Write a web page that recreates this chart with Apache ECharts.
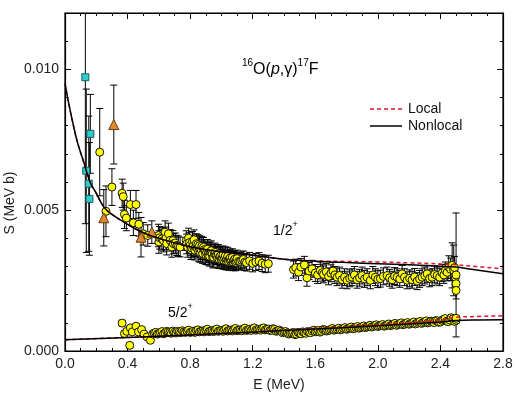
<!DOCTYPE html>
<html>
<head>
<meta charset="utf-8">
<script src="https://cdn.jsdelivr.net/npm/echarts@6/dist/echarts.min.js"></script>
<style>
  html, body { margin: 0; padding: 0; background: #fff; }
  #chart { width: 519px; height: 398px; }
</style>
</head>
<body>
<div id="chart"></div>
<script>
// model curves
const curveE12 = [0, 0.02, 0.05, 0.08, 0.12, 0.16, 0.2, 0.25, 0.3, 0.4, 0.5, 0.6, 0.8, 1.0, 1.2, 1.4, 1.6, 1.8, 2.0, 2.2, 2.4, 2.5, 2.6, 2.8];
const nonlocal12 = [0.0095, 0.0089, 0.0081, 0.0074, 0.0067, 0.0060, 0.0056, 0.0051, 0.00485, 0.0045, 0.0042, 0.0040, 0.0037, 0.00352, 0.0034, 0.00326, 0.00319, 0.00314, 0.00310, 0.00306, 0.00301, 0.00298, 0.00290, 0.00274];
const local12 = [0.0095, 0.0089, 0.0081, 0.0074, 0.0067, 0.0060, 0.0056, 0.0051, 0.00485, 0.0045, 0.0042, 0.0040, 0.0037, 0.00352, 0.0034, 0.00326, 0.00320, 0.00318, 0.00316, 0.00313, 0.00309, 0.00306, 0.00301, 0.00292];

const curveE52 = [0, 0.4, 0.8, 1.2, 1.6, 2.0, 2.4, 2.5, 2.6, 2.8];
const nonlocal52 = [0.00040, 0.00048, 0.00057, 0.00067, 0.00078, 0.00090, 0.00103, 0.00108, 0.00110, 0.00111];
const local52 = [0.00040, 0.00048, 0.00057, 0.00068, 0.00080, 0.00093, 0.00110, 0.00120, 0.00122, 0.00125];

// measured points: [E, S, error]
const squares = [[0.130, 0.00972, 0.0052], [0.136, 0.00640, 0.0029], [0.152, 0.00594, 0.0024], [0.156, 0.00540, 0.0020], [0.162, 0.00771, 0.0014]];
const triangles = [[0.248, 0.00473, 0.0010], [0.312, 0.00804, 0.0014], [0.486, 0.00404, 0.0007], [0.555, 0.00422, 0.0004]];

const half = [
  [0.222, 0.00706, 0.00155], [0.262, 0.00496, 0.0009], [0.300, 0.00582, 0.00065], [0.365, 0.00560, 0.0005],
  [0.372, 0.00548, 0.00048], [0.380, 0.00485, 0.0005], [0.392, 0.00472, 0.00045], [0.418, 0.00520, 0.0005],
  [0.437, 0.00455, 0.00045], [0.454, 0.00520, 0.0005], [0.472, 0.00450, 0.00042], [0.500, 0.00416, 0.0004],
  [0.529, 0.00410, 0.00038], [0.597, 0.00410, 0.0004], [0.600, 0.00387, 0.0004], [0.605, 0.00402, 0.0004],
  [0.620, 0.00398, 0.0004], [0.630, 0.00392, 0.0004], [0.640, 0.00422, 0.0004], [0.645, 0.00400, 0.0004],
  [0.650, 0.00381, 0.0004], [0.661, 0.00416, 0.00038], [0.672, 0.00393, 0.00038], [0.683, 0.00369, 0.00036],
  [0.690, 0.00392, 0.00036], [0.693, 0.00381, 0.00036], [0.705, 0.00383, 0.00036], [0.715, 0.00375, 0.00036],
  [0.725, 0.00372, 0.00036], [0.736, 0.00369, 0.00035],
  [0.775, 0.00392, 0.00035], [0.778, 0.00380, 0.00035], [0.785, 0.00368, 0.00035], [0.790, 0.00401, 0.00035],
  [0.795, 0.00385, 0.00035], [0.800, 0.00375, 0.00035], [0.805, 0.00360, 0.00035], [0.810, 0.00366, 0.00035],
  [0.815, 0.00389, 0.00035], [0.820, 0.00372, 0.00035], [0.825, 0.00395, 0.00035], [0.830, 0.00358, 0.00035],
  [0.835, 0.00370, 0.00035], [0.840, 0.00381, 0.00035], [0.845, 0.00365, 0.00035], [0.850, 0.00378, 0.00035],
  [0.855, 0.00352, 0.00035], [0.860, 0.00374, 0.00035], [0.865, 0.00350, 0.00035], [0.870, 0.00360, 0.00035],
  [0.875, 0.00372, 0.00035], [0.880, 0.00346, 0.00035], [0.885, 0.00368, 0.00035], [0.890, 0.00360, 0.00035],
  [0.895, 0.00355, 0.00035], [0.900, 0.00342, 0.00035], [0.905, 0.00350, 0.00035], [0.910, 0.00361, 0.00035],
  [0.915, 0.00340, 0.00035], [0.920, 0.00349, 0.00035], [0.925, 0.00336, 0.00035], [0.930, 0.00352, 0.00035],
  [0.935, 0.00356, 0.00035], [0.940, 0.00344, 0.00035], [0.945, 0.00330, 0.00035], [0.950, 0.00333, 0.00035],
  [0.955, 0.00345, 0.00033], [0.960, 0.00350, 0.00033], [0.965, 0.00339, 0.00033], [0.970, 0.00340, 0.00033],
  [0.975, 0.00328, 0.00033], [0.980, 0.00345, 0.00033], [0.985, 0.00326, 0.00033], [0.990, 0.00335, 0.00033],
  [0.995, 0.00338, 0.00033], [1.000, 0.00324, 0.00032], [1.005, 0.00330, 0.00032], [1.010, 0.00341, 0.00032],
  [1.015, 0.00322, 0.00032], [1.020, 0.00330, 0.00032], [1.025, 0.00338, 0.00032], [1.030, 0.00320, 0.00032],
  [1.035, 0.00326, 0.00032], [1.040, 0.00336, 0.00032], [1.045, 0.00318, 0.00031], [1.050, 0.00326, 0.00031],
  [1.055, 0.00330, 0.00031], [1.060, 0.00318, 0.00031], [1.065, 0.00322, 0.00031], [1.070, 0.00332, 0.00031],
  [1.075, 0.00316, 0.00031], [1.080, 0.00322, 0.00031], [1.085, 0.00326, 0.00031], [1.090, 0.00315, 0.0003],
  [1.095, 0.00320, 0.0003], [1.100, 0.00328, 0.0003], [1.110, 0.00318, 0.0003], [1.120, 0.00318, 0.0003],
  [1.130, 0.00322, 0.0003], [1.140, 0.00325, 0.0003], [1.150, 0.00316, 0.0003], [1.160, 0.00314, 0.0003],
  [1.180, 0.00320, 0.0003], [1.200, 0.00311, 0.0003], [1.220, 0.00316, 0.0003], [1.240, 0.00319, 0.0003],
  [1.260, 0.00312, 0.0003], [1.280, 0.00308, 0.0003], [1.300, 0.00310, 0.0003],
  [1.461, 0.00289, 0.0003], [1.475, 0.00296, 0.0003], [1.493, 0.00280, 0.0003], [1.508, 0.00298, 0.0003],
  [1.530, 0.00306, 0.0003], [1.547, 0.00260, 0.0003], [1.560, 0.00284, 0.0003], [1.579, 0.00292, 0.0003],
  [1.600, 0.00277, 0.0003], [1.615, 0.00270, 0.0003], [1.632, 0.00286, 0.0003], [1.645, 0.00278, 0.0003],
  [1.653, 0.00272, 0.0003], [1.670, 0.00281, 0.0003], [1.685, 0.00265, 0.0003], [1.700, 0.00276, 0.0003],
  [1.713, 0.00284, 0.0003], [1.725, 0.00270, 0.0003], [1.739, 0.00262, 0.0003], [1.755, 0.00268, 0.0003],
  [1.771, 0.00253, 0.0003], [1.787, 0.00262, 0.0003], [1.803, 0.00251, 0.0003], [1.820, 0.00258, 0.0003],
  [1.835, 0.00262, 0.0003], [1.850, 0.00270, 0.0003], [1.867, 0.00253, 0.0003], [1.883, 0.00260, 0.0003],
  [1.899, 0.00268, 0.0003], [1.915, 0.00256, 0.0003], [1.931, 0.00262, 0.0003], [1.952, 0.00251, 0.0003],
  [1.968, 0.00270, 0.0003], [1.984, 0.00262, 0.0003], [2.000, 0.00255, 0.0003], [2.016, 0.00257, 0.0003],
  [2.035, 0.00265, 0.0003], [2.059, 0.00268, 0.0003], [2.075, 0.00260, 0.0003], [2.091, 0.00253, 0.0003],
  [2.107, 0.00266, 0.0003], [2.123, 0.00262, 0.0003], [2.140, 0.00256, 0.0003], [2.155, 0.00274, 0.0003],
  [2.170, 0.00262, 0.0003], [2.187, 0.00251, 0.0003], [2.203, 0.00258, 0.0003], [2.219, 0.00253, 0.0003],
  [2.235, 0.00263, 0.0003], [2.251, 0.00248, 0.0003], [2.267, 0.00256, 0.0003], [2.283, 0.00262, 0.0003],
  [2.300, 0.00268, 0.0003], [2.315, 0.00274, 0.0003], [2.331, 0.00258, 0.0003], [2.347, 0.00262, 0.0003],
  [2.363, 0.00272, 0.0003], [2.379, 0.00268, 0.0003], [2.395, 0.00262, 0.0003], [2.411, 0.00277, 0.0003],
  [2.422, 0.00270, 0.0003], [2.432, 0.00286, 0.0003], [2.443, 0.00279, 0.0003], [2.453, 0.00298, 0.0004],
  [2.465, 0.00290, 0.0004], [2.475, 0.00304, 0.0008], [2.485, 0.00286, 0.0009], [2.490, 0.00296, 0.0004],
  [2.496, 0.00262, 0.0003], [2.500, 0.00239, 0.0003], [2.500, 0.00215, 0.0003], [2.500, 0.00270, 0.0022]
];

const fiveHalf = [
  [0.365, 0.00099, 0.0001], [0.380, 0.00062, 0.00008], [0.395, 0.00070, 0.00008], [0.414, 0.00020, 0.00008],
  [0.418, 0.00082, 0.00008], [0.430, 0.00068, 0.00008], [0.454, 0.00088, 0.00008], [0.470, 0.00068, 0.00008],
  [0.490, 0.00076, 0.00008], [0.505, 0.00060, 0.00008], [0.525, 0.00050, 0.00008], [0.546, 0.00038, 0.00008],
  [0.56, 0.00060, 0.00006], [0.57, 0.00064, 0.00006], [0.58, 0.00066, 0.00006], [0.59, 0.00060, 0.00006],
  [0.60, 0.00062, 0.00006], [0.61, 0.00066, 0.00006], [0.62, 0.00069, 0.00006], [0.63, 0.00061, 0.00006],
  [0.64, 0.00064, 0.00006], [0.65, 0.00070, 0.00006], [0.66, 0.00068, 0.00006], [0.67, 0.00066, 0.00006],
  [0.68, 0.00063, 0.00006], [0.69, 0.00071, 0.00006], [0.70, 0.00067, 0.00006], [0.71, 0.00064, 0.00006],
  [0.72, 0.00070, 0.00006], [0.73, 0.00068, 0.00006], [0.74, 0.00065, 0.00006], [0.75, 0.00072, 0.00006],
  [0.76, 0.00068, 0.00006], [0.77, 0.00066, 0.00006], [0.78, 0.00071, 0.00006], [0.79, 0.00074, 0.00006],
  [0.80, 0.00066, 0.00006], [0.81, 0.00068, 0.00006], [0.82, 0.00070, 0.00006], [0.83, 0.00066, 0.00006],
  [0.84, 0.00073, 0.00006], [0.85, 0.00075, 0.00006], [0.86, 0.00068, 0.00006], [0.87, 0.00070, 0.00006],
  [0.88, 0.00071, 0.00006], [0.89, 0.00068, 0.00006], [0.90, 0.00074, 0.00006], [0.91, 0.00077, 0.00006],
  [0.92, 0.00069, 0.00006], [0.93, 0.00071, 0.00006], [0.94, 0.00072, 0.00006], [0.95, 0.00069, 0.00006],
  [0.96, 0.00075, 0.00006], [0.97, 0.00078, 0.00006], [0.98, 0.00070, 0.00006], [0.99, 0.00072, 0.00006],
  [1.00, 0.00073, 0.00006], [1.01, 0.00070, 0.00006], [1.02, 0.00076, 0.00006], [1.03, 0.00079, 0.00006],
  [1.04, 0.00071, 0.00006], [1.05, 0.00073, 0.00006], [1.06, 0.00074, 0.00006], [1.07, 0.00071, 0.00006],
  [1.08, 0.00077, 0.00006], [1.09, 0.00080, 0.00006], [1.10, 0.00072, 0.00006], [1.11, 0.00074, 0.00006],
  [1.12, 0.00075, 0.00006], [1.13, 0.00072, 0.00006], [1.14, 0.00078, 0.00006], [1.15, 0.00081, 0.00006],
  [1.16, 0.00073, 0.00006], [1.17, 0.00075, 0.00006], [1.18, 0.00077, 0.00006], [1.19, 0.00073, 0.00006],
  [1.20, 0.00079, 0.00006], [1.21, 0.00082, 0.00006], [1.22, 0.00074, 0.00006], [1.23, 0.00076, 0.00006],
  [1.24, 0.00077, 0.00006], [1.25, 0.00074, 0.00006], [1.26, 0.00080, 0.00006], [1.27, 0.00082, 0.00006],
  [1.28, 0.00075, 0.00006], [1.29, 0.00077, 0.00006], [1.30, 0.00078, 0.00006], [1.31, 0.00073, 0.00006],
  [1.32, 0.00074, 0.00006], [1.33, 0.00079, 0.00006], [1.34, 0.00077, 0.00006], [1.35, 0.00070, 0.00006],
  [1.36, 0.00072, 0.00006], [1.37, 0.00074, 0.00006], [1.38, 0.00070, 0.00006], [1.39, 0.00065, 0.00006],
  [1.40, 0.00067, 0.00006], [1.41, 0.00069, 0.00006], [1.42, 0.00064, 0.00006], [1.43, 0.00060, 0.00006],
  [1.44, 0.00062, 0.00006], [1.45, 0.00064, 0.00006], [1.46, 0.00066, 0.00006], [1.47, 0.00058, 0.00006],
  [1.48, 0.00060, 0.00006], [1.49, 0.00066, 0.00006], [1.50, 0.00064, 0.00006], [1.51, 0.00061, 0.00006],
  [1.52, 0.00068, 0.00006], [1.53, 0.00065, 0.00006], [1.54, 0.00063, 0.00006], [1.55, 0.00069, 0.00006],
  [1.56, 0.00067, 0.00006], [1.57, 0.00065, 0.00006], [1.58, 0.00071, 0.00006], [1.59, 0.00074, 0.00006],
  [1.60, 0.00068, 0.00006], [1.61, 0.00070, 0.00006], [1.62, 0.00073, 0.00006], [1.63, 0.00067, 0.00006],
  [1.64, 0.00070, 0.00006], [1.65, 0.00076, 0.00006], [1.66, 0.00075, 0.00006], [1.67, 0.00071, 0.00006],
  [1.68, 0.00072, 0.00006], [1.69, 0.00074, 0.00006], [1.70, 0.00077, 0.00006], [1.71, 0.00080, 0.00006],
  [1.72, 0.00074, 0.00006], [1.73, 0.00076, 0.00006], [1.74, 0.00078, 0.00006], [1.75, 0.00081, 0.00006],
  [1.76, 0.00075, 0.00006], [1.77, 0.00077, 0.00006], [1.78, 0.00080, 0.00006], [1.79, 0.00083, 0.00006],
  [1.80, 0.00077, 0.00006], [1.81, 0.00079, 0.00006], [1.82, 0.00082, 0.00006], [1.83, 0.00085, 0.00006],
  [1.84, 0.00079, 0.00006], [1.85, 0.00080, 0.00006], [1.86, 0.00084, 0.00006], [1.87, 0.00087, 0.00006],
  [1.88, 0.00081, 0.00006], [1.89, 0.00083, 0.00006], [1.90, 0.00086, 0.00006], [1.91, 0.00089, 0.00006],
  [1.92, 0.00083, 0.00006], [1.93, 0.00085, 0.00006], [1.94, 0.00088, 0.00006], [1.95, 0.00091, 0.00006],
  [1.96, 0.00085, 0.00006], [1.97, 0.00087, 0.00006], [1.98, 0.00090, 0.00006], [1.99, 0.00093, 0.00006],
  [2.00, 0.00087, 0.00006], [2.01, 0.00089, 0.00006], [2.02, 0.00091, 0.00006], [2.03, 0.00094, 0.00006],
  [2.04, 0.00088, 0.00006], [2.05, 0.00090, 0.00006], [2.06, 0.00093, 0.00006], [2.07, 0.00096, 0.00006],
  [2.08, 0.00090, 0.00006], [2.09, 0.00092, 0.00006], [2.10, 0.00095, 0.00006], [2.11, 0.00098, 0.00006],
  [2.12, 0.00091, 0.00006], [2.13, 0.00094, 0.00006], [2.14, 0.00097, 0.00006], [2.15, 0.00100, 0.00006],
  [2.16, 0.00093, 0.00006], [2.17, 0.00095, 0.00006], [2.18, 0.00098, 0.00006], [2.19, 0.00101, 0.00006],
  [2.20, 0.00095, 0.00006], [2.21, 0.00097, 0.00006], [2.22, 0.00100, 0.00006], [2.23, 0.00103, 0.00006],
  [2.24, 0.00096, 0.00006], [2.25, 0.00098, 0.00006], [2.26, 0.00102, 0.00006], [2.27, 0.00105, 0.00006],
  [2.28, 0.00098, 0.00006], [2.29, 0.00101, 0.00006], [2.30, 0.00104, 0.00006], [2.31, 0.00107, 0.00006],
  [2.32, 0.00100, 0.00006], [2.33, 0.00102, 0.00006], [2.34, 0.00106, 0.00006], [2.35, 0.00104, 0.00006],
  [2.36, 0.00101, 0.00006], [2.37, 0.00108, 0.00006], [2.38, 0.00107, 0.00006], [2.39, 0.00102, 0.00006],
  [2.40, 0.00103, 0.00006], [2.41, 0.00109, 0.00008], [2.42, 0.00112, 0.00008], [2.43, 0.00115, 0.00008],
  [2.44, 0.00106, 0.00008], [2.45, 0.00104, 0.00008], [2.46, 0.00110, 0.00008], [2.47, 0.00118, 0.0001],
  [2.48, 0.00114, 0.0001], [2.49, 0.00105, 0.0001], [2.50, 0.00109, 0.0001], [2.50, 0.00116, 0.0001]
];

const FONT = '"Liberation Sans", Arial, sans-serif';
const Y_MAX = 0.012;
const RED = '#e3122c';
const RECT = { left: 65, right: 16, top: 13, bottom: 47 };

function zip(xs, ys) {
    return xs.map((x, i) => [x, ys[i]]);
}

// vertical error bar with caps, clipped at the top of the frame
function errorBar(params, api) {
    const x = api.value(0), y = api.value(1), e = api.value(2);
    const hi = Math.min(y + e, Y_MAX);
    const top = api.coord([x, hi]);
    const bot = api.coord([x, Math.max(y - e, 0)]);
    const hw = 3.5;
    const st = { stroke: '#000', lineWidth: 1 };
    const kids = [
        { type: 'line', shape: { x1: top[0], y1: top[1], x2: bot[0], y2: bot[1] }, style: st },
        { type: 'line', shape: { x1: bot[0] - hw, y1: bot[1], x2: bot[0] + hw, y2: bot[1] }, style: st }
    ];
    if (y + e < Y_MAX) {
        kids.push({ type: 'line', shape: { x1: top[0] - hw, y1: top[1], x2: top[0] + hw, y2: top[1] }, style: st });
    }
    return { type: 'group', children: kids };
}

function errSeries(data) {
    return {
        type: 'custom', renderItem: errorBar, data: data, z: 3, silent: true,
        progressive: 0, encode: { x: 0, y: 1 }
    };
}

function pointSeries(data, symbol, size, fill, border) {
    return {
        type: 'scatter', data: data.map(d => [d[0], d[1]]), symbol: symbol, symbolSize: size, z: 4,
        progressive: 0, itemStyle: { color: fill, borderColor: border, borderWidth: 1, opacity: 1 }
    };
}

function curve(xs, ys, dashed) {
    return {
        type: 'line', data: zip(xs, ys), showSymbol: false, symbol: 'none',
        smooth: 0.4, z: 5, silent: true,
        lineStyle: dashed ? { color: RED, width: 1.5, type: [4, 3] } : { color: '#000', width: 1.5 }
    };
}

function frameLine() {
    return { show: true, onZero: false, lineStyle: { color: '#000', width: 1.2 } };
}

function xAx(pos, labels, gridIndex) {
    return {
        type: 'value', gridIndex: gridIndex, position: pos, min: 0, max: 2.8, interval: 0.4,
        axisLine: frameLine(),
        axisTick: { inside: true, length: 6, lineStyle: { color: '#000' } },
        minorTick: { show: true, splitNumber: 4, length: 3, lineStyle: { color: '#000' } },
        splitLine: { show: false },
        axisLabel: { show: labels, margin: 6, color: '#222', fontSize: 14, fontFamily: FONT, formatter: v => v.toFixed(1) }
    };
}

function yAx(pos, step, len, labels) {
    return {
        type: 'value', gridIndex: 0, position: pos, min: 0, max: Y_MAX, interval: step,
        axisLine: step === 0.001 ? frameLine() : { show: false, onZero: false },
        axisTick: { inside: true, length: len, lineStyle: { color: '#000' } },
        splitLine: { show: false },
        axisLabel: {
            show: labels, margin: 6, color: '#222', fontSize: 14, fontFamily: FONT,
            showMaxLabel: false,
            formatter: v => v.toFixed(3)
        }
    };
}

function supLabel(x, y, base, sup) {
    return {
        type: 'text', x: x, y: y, z: 10,
        style: {
            text: '{n|' + base + '}{s|' + sup + '}',
            rich: {
                n: { fontSize: 14, fontFamily: FONT, color: '#000', lineHeight: 18, verticalAlign: 'bottom' },
                s: { fontSize: 9, fontFamily: FONT, color: '#000', lineHeight: 18, verticalAlign: 'top' }
            }
        }
    };
}

const chart = echarts.init(document.getElementById('chart'));
chart.setOption({
    animation: false,
    // grid 1 lies on grid 0 and only carries the top axis
    grid: [
        Object.assign({ show: true, borderColor: '#000', borderWidth: 1.2 }, RECT),
        Object.assign({}, RECT)
    ],
    xAxis: [xAx('bottom', true, 0), xAx('top', false, 1)],
    yAxis: [
        yAx('left', 0.001, 3, false), yAx('left', 0.005, 6, true),
        yAx('right', 0.001, 3, false), yAx('right', 0.005, 6, false),
        { type: 'value', gridIndex: 1, min: 0, max: Y_MAX, show: false }
    ],
    series: [
        curve(curveE12, local12, true),
        curve(curveE12, nonlocal12, false),
        curve(curveE52, local52, true),
        curve(curveE52, nonlocal52, false),
        errSeries(squares), errSeries(triangles), errSeries(half), errSeries(fiveHalf),
        pointSeries(fiveHalf, 'circle', 8, '#ffff00', '#111'),
        pointSeries(half, 'circle', 8, '#ffff00', '#111'),
        pointSeries(squares, 'rect', 7, '#33cccc', '#11605f'),
        pointSeries(triangles, 'triangle', 10, '#e2892c', '#6a3a12'),
        { type: 'scatter', xAxisIndex: 1, yAxisIndex: 4, data: [], silent: true }
    ]
});

chart.setOption({
    graphic: [
        {
            type: 'text', x: 242, y: 58, z: 10,
            style: {
                text: '{s|16}{n|O(}{i|p}{n|,γ)}{s|17}{n|F}', fontFamily: FONT,
                rich: {
                    n: { fontSize: 16, fontFamily: FONT, color: '#000', lineHeight: 20, verticalAlign: 'bottom' },
                    i: { fontSize: 16, fontFamily: FONT, fontStyle: 'italic', color: '#000', lineHeight: 20, verticalAlign: 'bottom' },
                    s: { fontSize: 10, fontFamily: FONT, color: '#000', lineHeight: 20, verticalAlign: 'top' }
                }
            }
        },
        supLabel(273, 220, '1/2', '+'),
        supLabel(168, 302, '5/2', '+'),
        // legend
        { type: 'line', z: 10, shape: { x1: 370, y1: 109, x2: 402, y2: 109 }, style: { stroke: RED, lineWidth: 1.5, lineDash: [4, 3] } },
        { type: 'text', x: 408, y: 109, z: 10, style: { text: 'Local', fontSize: 14, fontFamily: FONT, fill: '#111', verticalAlign: 'middle' } },
        { type: 'line', z: 10, shape: { x1: 370, y1: 126, x2: 402, y2: 126 }, style: { stroke: '#000', lineWidth: 1.5 } },
        { type: 'text', x: 408, y: 126, z: 10, style: { text: 'Nonlocal', fontSize: 14, fontFamily: FONT, fill: '#111', verticalAlign: 'middle' } },
        // axis names
        {
            type: 'text', x: 10, y: 203, rotation: Math.PI / 2, z: 10,
            style: { text: 'S (MeV b)', fontSize: 14, fontFamily: FONT, fill: '#222', align: 'center', verticalAlign: 'middle' }
        },
        {
            type: 'text', x: 279, y: 385, z: 10,
            style: { text: 'E (MeV)', fontSize: 14, fontFamily: FONT, fill: '#222', align: 'center', verticalAlign: 'middle' }
        }
    ]
});
</script>
</body>
</html>
